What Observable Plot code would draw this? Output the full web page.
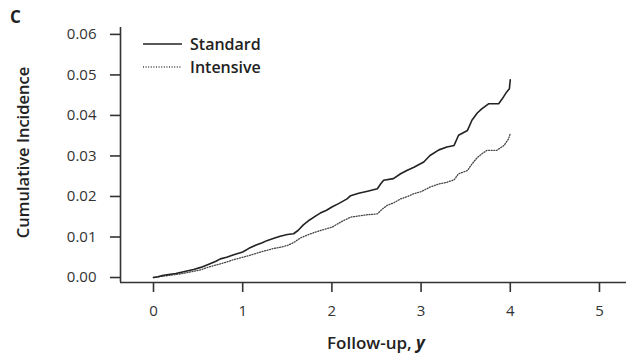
<!DOCTYPE html>
<html><head><meta charset="utf-8">
<script src="https://cdn.jsdelivr.net/npm/d3@7"></script>
<script src="https://cdn.jsdelivr.net/npm/@observablehq/plot@0.6"></script>
<style>
body{margin:0;background:#fff;}
svg{font-family:"Open Sans",sans-serif;}
</style></head><body>
<div id="chart"></div>
<script>
const xTicks = [0,1,2,3,4,5];
const yTicks = [0,0.01,0.02,0.03,0.04,0.05,0.06];
const xDomain = [-0.37, 5.303];
const yDomain = [-0.00123, 0.0617];

const stdT = [0,0.05,0.1,0.15,0.25,0.35,0.45,0.53,0.62,0.7,0.75,0.82,0.9,1.0,1.07,1.15,1.22,1.27,1.35,1.42,1.5,1.57,1.62,1.68,1.75,1.82,1.87,1.94,2.0,2.08,2.17,2.21,2.3,2.4,2.51,2.55,2.58,2.69,2.77,2.84,2.92,3.03,3.1,3.2,3.29,3.37,3.42,3.52,3.57,3.63,3.68,3.76,3.87,3.91,3.96,3.99,4.0];
const stdV = [0,0.0002,0.0005,0.0007,0.0010,0.0015,0.0020,0.0025,0.0033,0.0040,0.0046,0.0050,0.0056,0.0063,0.0072,0.0080,0.0086,0.0091,0.0097,0.0102,0.0106,0.0108,0.0116,0.0130,0.0142,0.0152,0.0159,0.0166,0.0174,0.0183,0.0194,0.0202,0.0208,0.0213,0.0219,0.0232,0.0240,0.0244,0.0256,0.0264,0.0272,0.0285,0.0301,0.0315,0.0322,0.0326,0.0351,0.0363,0.0388,0.0406,0.0416,0.0429,0.0429,0.0441,0.0458,0.0466,0.0488];
const intT = [0,0.1,0.2,0.3,0.4,0.53,0.62,0.72,0.8,0.9,1.0,1.1,1.2,1.27,1.35,1.43,1.5,1.57,1.65,1.75,1.87,1.95,2.0,2.1,2.21,2.3,2.4,2.51,2.56,2.62,2.7,2.77,2.85,2.92,3.0,3.1,3.2,3.29,3.37,3.42,3.52,3.57,3.63,3.68,3.74,3.85,3.93,3.98,4.0];
const intV = [0,0.0003,0.0006,0.0009,0.0013,0.0019,0.0026,0.0032,0.0037,0.0044,0.0050,0.0056,0.0063,0.0067,0.0072,0.0075,0.0079,0.0086,0.0098,0.0107,0.0116,0.0121,0.0124,0.0137,0.0149,0.0152,0.0155,0.0157,0.0168,0.0178,0.0185,0.0194,0.0200,0.0207,0.0212,0.0223,0.0231,0.0235,0.0241,0.0256,0.0264,0.0280,0.0296,0.0305,0.0314,0.0314,0.0326,0.0342,0.0355];

const std = stdT.map((t,i)=>({t, v: stdV[i]}));
const int = intT.map((t,i)=>({t, v: intV[i]}));

const ink = "#333";
const plot = Plot.plot({
  width: 626, height: 357,
  marginLeft: 120, marginRight: 0, marginTop: 27, marginBottom: 75,
  style: {fontFamily: '"Open Sans", sans-serif', fontSize: "15px", color: ink, background: "#fff"},
  x: {domain: xDomain, ticks: xTicks, label: null},
  y: {domain: yDomain, ticks: yTicks, label: null},
  marks: [
    Plot.axisX({ticks: xTicks, tickSize: 10, tickPadding: 13, tickFormat: d=>String(d), fontSize: 15, stroke: ink, strokeWidth: 1.6, label: null}),
    Plot.axisY({ticks: yTicks, tickSize: 10, tickPadding: 14, tickFormat: d3.format(".2f"), fontSize: 15, stroke: ink, strokeWidth: 1.6, label: null}),
    Plot.ruleX([xDomain[0]], {stroke: ink, strokeWidth: 1.6}),
    Plot.ruleY([yDomain[0]], {stroke: ink, strokeWidth: 1.6}),
    Plot.line(int, {x: "t", y: "v", curve: "linear", stroke: "#444", strokeWidth: 1.3, strokeDasharray: "1,1.6"}),
    Plot.line(std, {x: "t", y: "v", curve: "linear", stroke: "#222", strokeWidth: 1.6})
  ]
});
document.getElementById("chart").appendChild(plot);

const svg = d3.select(plot);
const xs = plot.scale("x");
const ys = plot.scale("y");
// x label
const xl = svg.append("text").attr("x", xs.apply(2.5)).attr("y", 349)
  .attr("text-anchor", "middle").attr("font-size", 17).attr("font-weight", 600).attr("fill", "#222");
xl.append("tspan").text("Follow-up, ");
xl.append("tspan").attr("font-style", "italic").attr("font-weight", 700).text("y");
// y label
svg.append("text").attr("transform", `translate(29,${(ys.apply(yDomain[0])+ys.apply(yDomain[1]))/2 - 2}) rotate(-90)`)
  .attr("text-anchor", "middle").attr("font-size", 16.5).attr("font-weight", 600).attr("fill", "#222")
  .text("Cumulative Incidence");
// panel letter
svg.append("text").attr("x", 10).attr("y", 23).attr("text-anchor", "start").attr("font-size", 17).attr("font-weight", 700).attr("fill", "#222").text("C");
// legend
const leg = [{name: "Standard", dash: null, w: 1.5, c: "#222"}, {name: "Intensive", dash: "1,1.6", w: 1.3, c: "#444"}];
leg.forEach((d,i)=>{
  const yy = 44 + i*23;
  svg.append("line").attr("x1", 143).attr("x2", 182).attr("y1", yy).attr("y2", yy)
    .attr("stroke", d.c).attr("stroke-width", d.w).attr("stroke-dasharray", d.dash);
  svg.append("text").attr("x", 190).attr("y", yy + 6).attr("text-anchor", "start").attr("font-size", 16).attr("font-weight", 600).attr("fill", "#222").text(d.name);
});
</script>
</body></html>
